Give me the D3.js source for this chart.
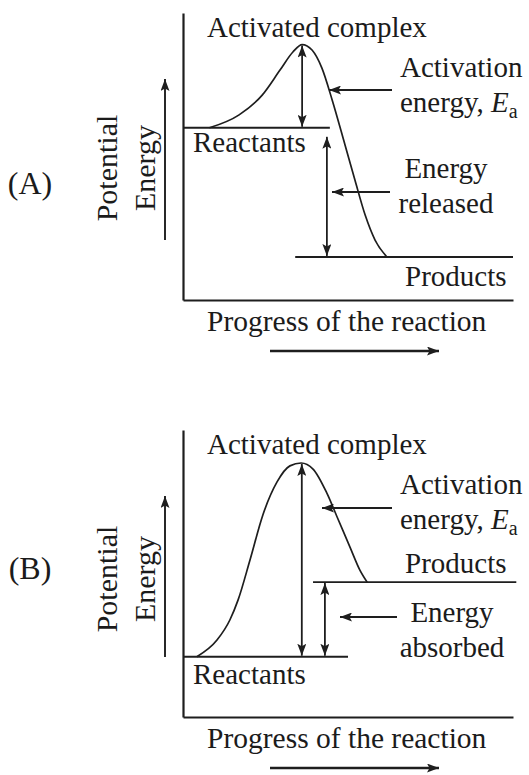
<!DOCTYPE html>
<html lang="en">
<head>
<meta charset="utf-8">
<script src="https://d3js.org/d3.v7.min.js"></script>
<style>
  body { margin: 0; background: #fff; }
  text { font-family: "Liberation Serif", "Times New Roman", serif; fill: #1b1b1b; }
</style>
</head>
<body>
<script>
// energy levels (arbitrary units): [reactants, activated complex, products]
const levelsA = [60, 89, 15];
const levelsB = [21, 88.5, 47];

// points: [progress, energy]
const curveA = [[8, 60], [17, 64.5], [24, 71.4], [29.4, 80.1], [33.3, 86.4], [36.1, 89],
  [39.1, 87.1], [42.1, 80.8], [45.2, 69.7], [49.1, 54], [52.1, 41.8], [55.2, 29.6],
  [58.2, 20.9], [61.8, 15]];
const curveB = [[4.2, 21], [10.3, 26.8], [14.2, 33.8], [16.7, 40.8], [20.3, 54.7],
  [24.2, 70.4], [28.5, 81.9], [32.4, 87.5], [35.8, 88.5], [39.4, 86.4], [43.6, 78],
  [46.7, 69.7], [50.6, 59.2], [53.6, 51.2], [55.8, 47]];

// where the level lines run along the progress axis
const reactantSpanA = [0, 44.5], productSpanA = [34, 100];
const reactantSpanB = [0, 50], productSpanB = [39.4, 101];

// progress at which the two vertical arrows stand
const arrowsA = [36.1, 43.6];
const arrowsB = [36, 43];

const panelNames = ["(A)", "(B)"];
const changeLabelsA = ["Energy", "released"];
const changeLabelsB = ["Energy", "absorbed"];

const W = 529, H = 775;
const plotW = 330, plotH = 287;
const ink = "#1e1e1e";

const svg = d3.select("body").append("svg")
  .attr("width", W)
  .attr("height", H);

svg.append("rect").attr("width", W).attr("height", H).attr("fill", "#fff");

// arrowhead
const defs = svg.append("defs");
defs.append("marker")
  .attr("id", "head")
  .attr("markerUnits", "userSpaceOnUse")
  .attr("viewBox", "0 0 12 9")
  .attr("markerWidth", 12)
  .attr("markerHeight", 9)
  .attr("refX", 12)
  .attr("refY", 4.5)
  .attr("orient", "auto-start-reverse")
  .append("path")
  .attr("d", "M0,0L12,4.5L0,9L2.5,4.5Z")
  .attr("fill", ink);

function arrow(g, x1, y1, x2, y2, both, w) {
  const l = g.append("line")
    .attr("x1", x1).attr("y1", y1)
    .attr("x2", x2).attr("y2", y2)
    .attr("stroke", ink)
    .attr("stroke-width", w || 1.8)
    .attr("marker-end", "url(#head)");
  if (both) l.attr("marker-start", "url(#head)");
}

function drawPanel(p) {
  const x = d3.scaleLinear().domain([0, 100]).range([0, plotW]);
  const y = d3.scaleLinear().domain([0, 100]).range([plotH, 0]);

  const g = svg.append("g").attr("transform", "translate(183," + p.top + ")");

  // frame: left and bottom axes, no ticks
  g.append("g")
    .call(d3.axisLeft(y).tickValues([]).tickSizeOuter(0))
    .select(".domain").attr("stroke", ink).attr("stroke-width", 2.2);
  g.append("g")
    .attr("transform", "translate(0," + plotH + ")")
    .call(d3.axisBottom(x).tickValues([]).tickSizeOuter(0))
    .select(".domain").attr("stroke", ink).attr("stroke-width", 2.2);

  // level lines
  const lev = p.levels;
  [[p.reactSpan, lev[0]], [p.prodSpan, lev[2]]].forEach(d => {
    g.append("line")
      .attr("x1", x(d[0][0])).attr("x2", x(d[0][1]))
      .attr("y1", y(d[1])).attr("y2", y(d[1]))
      .attr("stroke", ink).attr("stroke-width", 1.9);
  });

  // energy curve
  g.append("path")
    .datum(p.curve)
    .attr("fill", "none")
    .attr("stroke", ink)
    .attr("stroke-width", 1.7)
    .attr("d", d3.line()
      .x(d => x(d[0]))
      .y(d => y(d[1]))
      .curve(d3.curveMonotoneX));

  // activation energy arrow: peak down to reactants
  arrow(g, x(p.arrows[0]), y(lev[1]) + 1, x(p.arrows[0]), y(lev[0]) - 1, true);
  // energy change arrow between reactants and products
  if (p.released) {
    arrow(g, x(p.arrows[1]), y(lev[0]) + 9, x(p.arrows[1]), y(lev[2]) - 1, true);
  } else {
    arrow(g, x(p.arrows[1]), y(lev[2]) + 1, x(p.arrows[1]), y(lev[0]) - 1, true);
  }

  // pointer arrows
  arrow(g, 209, p.eaPointer[0], p.eaPointer[1], p.eaPointer[0], false, 2);
  arrow(g, p.chPointer[2], p.chPointer[0], p.chPointer[1], p.chPointer[0], false, 2);

  // labels
  g.append("text").attr("x", 24).attr("y", 24).attr("font-size", 29).text("Activated complex");
  g.append("text").attr("x", 217).attr("y", 64).attr("font-size", 29).text("Activation");
  const ea = g.append("text").attr("x", 217).attr("y", 99).attr("font-size", 29);
  ea.append("tspan").text("energy, ");
  ea.append("tspan").attr("font-style", "italic").text("E");
  ea.append("tspan").attr("font-size", 20).attr("dy", 6).text("a");

  g.append("text").attr("x", 10).attr("y", y(lev[0]) + p.reactDy)
    .attr("font-size", 29).text("Reactants");
  g.append("text").attr("x", 222).attr("y", y(lev[2]) + p.prodDy)
    .attr("font-size", 29).text("Products");

  p.changeLabels.forEach((t, i) => {
    g.append("text")
      .attr("x", p.changePos[0]).attr("y", p.changePos[1] + i * 35)
      .attr("text-anchor", "middle")
      .attr("font-size", 29).text(t);
  });

  g.append("text").attr("x", 24).attr("y", plotH + 31)
    .attr("font-size", 29.5).text("Progress of the reaction");
  arrow(g, 87, plotH + 51, 256, plotH + 51, false, 2.4);

  // y label and its arrow
  g.append("text")
    .attr("transform", "translate(-66," + p.yLabelMid + ") rotate(-90)")
    .attr("text-anchor", "middle").attr("font-size", 30).text("Potential");
  g.append("text")
    .attr("transform", "translate(-28," + p.yLabelMid + ") rotate(-90)")
    .attr("text-anchor", "middle").attr("font-size", 30).text("Energy");
  arrow(g, -18, 227, -18, 66, false, 1.9);

  g.append("text").attr("x", -153).attr("y", p.nameY)
    .attr("text-anchor", "middle").attr("font-size", 32).text(p.name);
}

drawPanel({
  top: 13, levels: levelsA, curve: curveA, reactSpan: reactantSpanA, prodSpan: productSpanA,
  arrows: arrowsA, released: true,
  eaPointer: [77, 146], chPointer: [179, 149, 207],
  reactDy: 24, prodDy: 29, changeLabels: changeLabelsA, changePos: [263, 165],
  yLabelMid: 155, name: panelNames[0], nameY: 181
});

drawPanel({
  top: 430, levels: levelsB, curve: curveB, reactSpan: reactantSpanB, prodSpan: productSpanB,
  arrows: arrowsB, released: false,
  eaPointer: [78, 139], chPointer: [187, 157, 214],
  reactDy: 27, prodDy: -9, changeLabels: changeLabelsB, changePos: [269, 192],
  yLabelMid: 149, name: panelNames[1], nameY: 149
});
</script>
</body>
</html>
